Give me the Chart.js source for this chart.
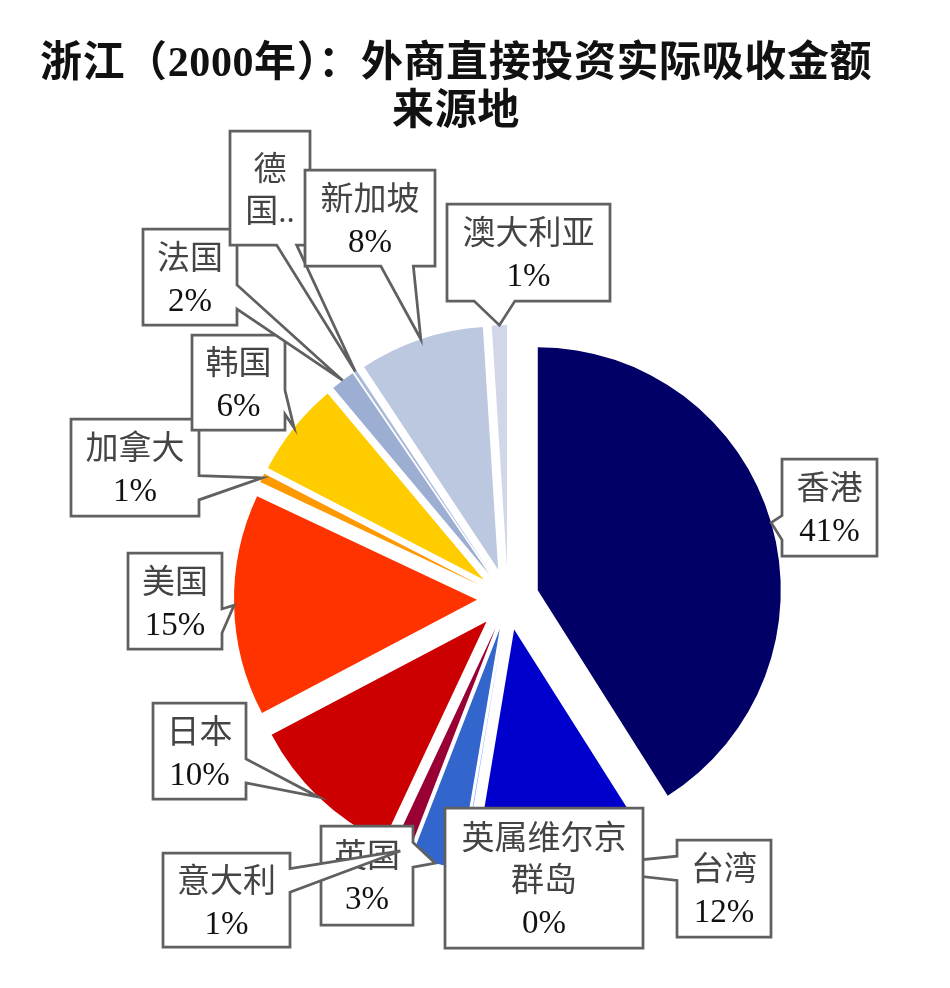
<!DOCTYPE html>
<html lang="zh">
<head>
    <meta charset="UTF-8">
    <title>浙江（2000年）：外商直接投资实际吸收金额来源地</title>
    <script src="https://cdn.jsdelivr.net/npm/chart.js"></script>
    <style>
        body {
            margin: 0;
            background: #fff;
        }

        .wrap {
            position: relative;
            width: 950px;
            height: 988px;
        }

        .chart-title {
            position: absolute;
            left: 0;
            top: 38px;
            width: 912px;
            text-align: center;
            font-family: 'Liberation Serif', 'Noto Sans CJK SC', serif;
            font-weight: bold;
            font-size: 42px;
            letter-spacing: 0.6px;
            line-height: 48px;
            color: #111;
        }
    </style>
</head>
<body>
    <div class="wrap">
        <canvas id="pieChart"></canvas>
        <div class="chart-title">浙江（2000年）：外商直接投资实际吸收金额<br>来源地</div>
    </div>

    <script>
        // 数据（顺时针，从12点方向开始）
        const regions = ['香港', '台湾', '英属维尔京\n群岛', '英国', '意大利', '日本', '美国',
                         '加拿大', '韩国', '法国', '德国', '新加坡', '澳大利亚'];
        const shares = [41.0, 11.6, 0.05, 3.2, 1.1, 10.3, 14.7, 0.6, 6.3, 1.6, 0.2, 8.3, 1.0];
        const sliceColors = ['#000066', '#0000CC', '#6699FF', '#3366CC', '#990033', '#CC0000', '#FF3300',
                             '#FF9900', '#FFCC00', '#9DAED3', '#A9B9DA', '#BCC7E0', '#CFD7E9'];

        // 标注框位置 [left, top, width, height]
        const labelBoxes = [
            [782, 459, 95, 97], [677, 840, 94, 97], [445, 808, 198, 140], [321, 826, 92, 99],
            [163, 853, 127, 94], [153, 703, 93, 96], [128, 553, 94, 96], [71, 419, 128, 97],
            [192, 335, 93, 95], [143, 229, 94, 96], [230, 131, 80, 114], [305, 170, 130, 96],
            [447, 204, 163, 97]
        ];
        const labelOverride = { 10: ['德', '国..'] };

        const EXPLODE = 31;     // 扇区分离距离
        const LINE_H = 42;
        const labelFont = '33px "Liberation Serif", "Noto Sans CJK SC", serif';

        // 分离的扇区：每块沿中线方向平移
        const explodePlugin = {
            id: 'explode',
            beforeDatasetDraw(chart, args) {
                const ctx = chart.ctx;
                args.meta.data.forEach(arc => {
                    const mid = (arc.startAngle + arc.endAngle) / 2;
                    ctx.save();
                    ctx.translate(Math.cos(mid) * EXPLODE, Math.sin(mid) * EXPLODE);
                    arc.draw(ctx);
                    ctx.restore();
                });
                return false;
            }
        };

        // Excel 风格的矩形标注（带尖角）；尖角落在框内时只画矩形
        function calloutPath(ctx, l, t, w, h, tx, ty) {
            const r = l + w, b = t + h;
            const inside = tx > l && tx < r && ty > t && ty < b;
            const dx = tx - (l + w / 2), dy = ty - (t + h / 2);
            const horiz = Math.abs(dx * h) > Math.abs(dy * w);
            const x1 = l + w * (dx > 0 ? 7 : 2) / 12, x2 = l + w * (dx > 0 ? 10 : 5) / 12;
            const y1 = t + h * (dy > 0 ? 7 : 2) / 12, y2 = t + h * (dy > 0 ? 10 : 5) / 12;
            ctx.beginPath();
            ctx.moveTo(l, t);
            if (!inside && !horiz && dy < 0) { ctx.lineTo(x1, t); ctx.lineTo(tx, ty); ctx.lineTo(x2, t); }
            ctx.lineTo(r, t);
            if (!inside && horiz && dx > 0) { ctx.lineTo(r, y1); ctx.lineTo(tx, ty); ctx.lineTo(r, y2); }
            ctx.lineTo(r, b);
            if (!inside && !horiz && dy > 0) { ctx.lineTo(x2, b); ctx.lineTo(tx, ty); ctx.lineTo(x1, b); }
            ctx.lineTo(l, b);
            if (!inside && horiz && dx < 0) { ctx.lineTo(l, y2); ctx.lineTo(tx, ty); ctx.lineTo(l, y1); }
            ctx.closePath();
        }

        const calloutPlugin = {
            id: 'callouts',
            afterDatasetsDraw(chart) {
                const ctx = chart.ctx;
                const meta = chart.getDatasetMeta(0);
                const total = shares.reduce((a, b) => a + b, 0);
                meta.data.forEach((arc, i) => {
                    const [l, t, w, h] = labelBoxes[i];
                    const mid = (arc.startAngle + arc.endAngle) / 2;
                    const rr = arc.outerRadius + EXPLODE;
                    const tx = arc.x + Math.cos(mid) * rr;
                    const ty = arc.y + Math.sin(mid) * rr;

                    ctx.save();
                    calloutPath(ctx, l, t, w, h, tx, ty);
                    ctx.fillStyle = '#fff';
                    ctx.fill();
                    ctx.lineWidth = 2.75;
                    ctx.lineJoin = 'miter';
                    ctx.strokeStyle = '#606060';
                    ctx.stroke();

                    const pct = Math.round(shares[i] / total * 100) + '%';
                    const lines = labelOverride[i] || regions[i].split('\n').concat([pct]);
                    ctx.font = labelFont;
                    ctx.textAlign = 'center';
                    ctx.textBaseline = 'middle';
                    const cx = l + w / 2;
                    const top = t + h / 2 + 4 - (lines.length - 1) * LINE_H / 2;
                    lines.forEach((s, k) => {
                        ctx.fillStyle = /%/.test(s) ? '#111' : '#444';
                        ctx.fillText(s, cx, top + k * LINE_H);
                    });
                    ctx.restore();
                });
            }
        };

        new Chart(document.getElementById('pieChart'), {
            type: 'pie',
            data: {
                labels: regions,
                datasets: [{
                    data: shares,
                    backgroundColor: sliceColors,
                    borderWidth: 0,
                    offset: 0,
                    hoverOffset: 0,
                    radius: 243
                }]
            },
            options: {
                responsive: true,
                maintainAspectRatio: false,
                animation: false,
                events: [],
                layout: { padding: { left: 66, top: 210, right: 0, bottom: 0 } },
                plugins: {
                    legend: { display: false },
                    tooltip: { enabled: false },
                    title: { display: false }
                }
            },
            plugins: [explodePlugin, calloutPlugin]
        });
    </script>
</body>
</html>
